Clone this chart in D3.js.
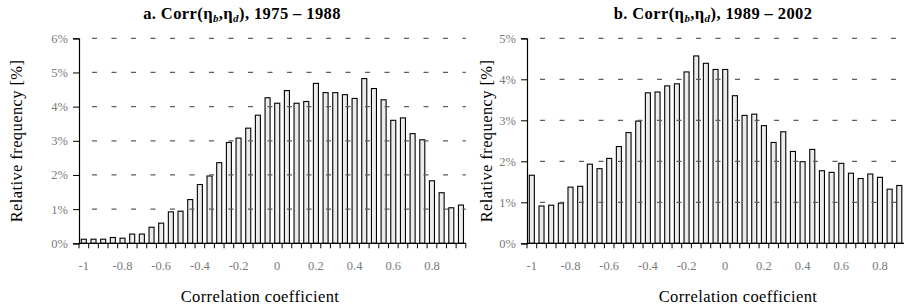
<!DOCTYPE html>
<html><head><meta charset="utf-8">
<script src="https://cdn.jsdelivr.net/npm/d3@7"></script>
<style>
body{margin:0;background:#fff;}
svg{display:block;}
text{font-family:"Liberation Serif","DejaVu Serif",serif;}
</style></head>
<body><svg id="c" width="904" height="307"></svg>
<script>
// bins start at -1 with width 0.05
const binsA = d3.range(40).map(i => (-1 + i*0.05));
const valuesA = [0.12,0.12,0.12,0.17,0.15,0.27,0.27,0.47,0.59,0.92,0.94,1.28,1.72,1.97,2.36,2.95,3.08,3.37,3.75,4.26,4.10,4.47,4.10,4.15,4.68,4.41,4.41,4.35,4.24,4.82,4.53,4.20,3.60,3.67,3.21,3.03,1.83,1.48,1.04,1.12];
const binsB = d3.range(39).map(i => (-1 + i*0.05));
const valuesB = [1.66,0.91,0.93,0.98,1.37,1.39,1.93,1.82,2.07,2.36,2.70,2.98,3.67,3.69,3.84,3.89,4.18,4.57,4.39,4.24,4.24,3.60,3.12,3.15,2.87,2.46,2.72,2.24,1.99,2.29,1.77,1.73,1.95,1.71,1.58,1.69,1.61,1.32,1.41];
const xTickLabels = ["-1","-0.8","-0.6","-0.4","-0.2","0","0.2","0.4","0.6","0.8"];
const yTicksA = [0,1,2,3,4,5,6];
const yTicksB = [0,1,2,3,4,5];

const svg = d3.select("#c");
const step = 9.67;

function panel(opts){
  const {values, yTicks, yMax, x0, nBands, letter, years, titleX, xTitleX, yTitleX} = opts;
  const top = 38.3, bottom = 243.3;
  const x = d3.scaleBand().domain(d3.range(nBands)).range([x0, x0 + nBands*step]).paddingInner(0.48).paddingOuter(0.24);
  const y = d3.scaleLinear().domain([0, yMax]).range([bottom, top]);
  const g = svg.append("g");

  // bars
  g.selectAll("rect.bar").data(values).join("rect")
    .attr("x", (d,i)=>x(i)).attr("width", x.bandwidth())
    .attr("y", d=>y(d)).attr("height", d=>bottom - y(d))
    .attr("fill", "#ececec").attr("stroke", "#000").attr("stroke-width", 1.1);

  // gridlines
  const xEnd = Math.min(x0 + nBands*step, 904);
  g.selectAll("line.grid").data(yTicks.filter(t=>t>0)).join("line")
    .attr("x1", x0).attr("x2", xEnd)
    .attr("y1", d=>y(d)).attr("y2", d=>y(d))
    .attr("stroke", "#5e5e5e").attr("stroke-width", 1.3)
    .attr("stroke-dasharray", "5,14.5").attr("stroke-dashoffset", -13);

  // y axis
  const ya = d3.axisLeft(y).tickValues(yTicks).tickFormat(d=>d+"%").tickSize(6).tickPadding(5);
  const yg = g.append("g").attr("transform", `translate(${x0},0)`).call(ya);
  yg.select(".domain").attr("stroke","#000").attr("stroke-width",1.2);
  yg.selectAll(".tick line").attr("stroke","#000");
  yg.selectAll(".tick text").attr("fill","#7a7a7a").style("font-size","12.5px").style("font-family",'"Liberation Serif",serif');

  // x axis: ticks at band boundaries
  const xl = d3.scaleLinear().domain([0, nBands]).range([x0, x0 + nBands*step]);
  g.append("line").attr("x1", x0).attr("x2", xEnd).attr("y1", bottom).attr("y2", bottom)
    .attr("stroke","#000").attr("stroke-width",1.2);
  g.selectAll("line.xt").data(d3.range(nBands+1).filter(i=>xl(i)<=904)).join("line")
    .attr("x1", d=>xl(d)).attr("x2", d=>xl(d)).attr("y1", bottom).attr("y2", bottom+5)
    .attr("stroke","#000").attr("stroke-width",1);
  g.selectAll("text.xl").data(xTickLabels).join("text")
    .attr("x", (d,i)=>x(i*4) + x.bandwidth()/2).attr("y", 269.5)
    .attr("text-anchor","middle").attr("fill","#7a7a7a").style("font-size","12.5px")
    .text(d=>d);

  // titles
  const t = g.append("text").attr("x", titleX).attr("y", 19).attr("text-anchor","middle")
    .style("font-size","16.5px").style("font-weight","bold").style("letter-spacing","0.4px").attr("fill","#000");
  t.append("tspan").text(letter + ". Corr(η");
  t.append("tspan").attr("dy", 3).style("font-size","11px").style("font-style","italic").text("b");
  t.append("tspan").attr("dy", -3).text(",η");
  t.append("tspan").attr("dy", 3).style("font-size","11px").style("font-style","italic").text("d");
  t.append("tspan").attr("dy", -3).text("), " + years);

  g.append("text").attr("x", xTitleX).attr("y", 302).attr("text-anchor","middle")
    .style("font-size","16.5px").style("letter-spacing","0.4px").attr("fill","#000").text("Correlation coefficient");
  g.append("text").attr("transform", `translate(${yTitleX},141) rotate(-90)`).attr("text-anchor","middle")
    .style("font-size","16.5px").style("letter-spacing","0.4px").attr("fill","#000").text("Relative frequency [%]");
}

panel({values: valuesA, yTicks: yTicksA, yMax: 6, x0: 79, nBands: 40, letter: "a", years: "1975 – 1988", titleX: 242, xTitleX: 260, yTitleX: 22});
panel({values: valuesB, yTicks: yTicksB, yMax: 5, x0: 527, nBands: 40, letter: "b", years: "1989 – 2002", titleX: 713, xTitleX: 738, yTitleX: 492});
</script></body></html>
